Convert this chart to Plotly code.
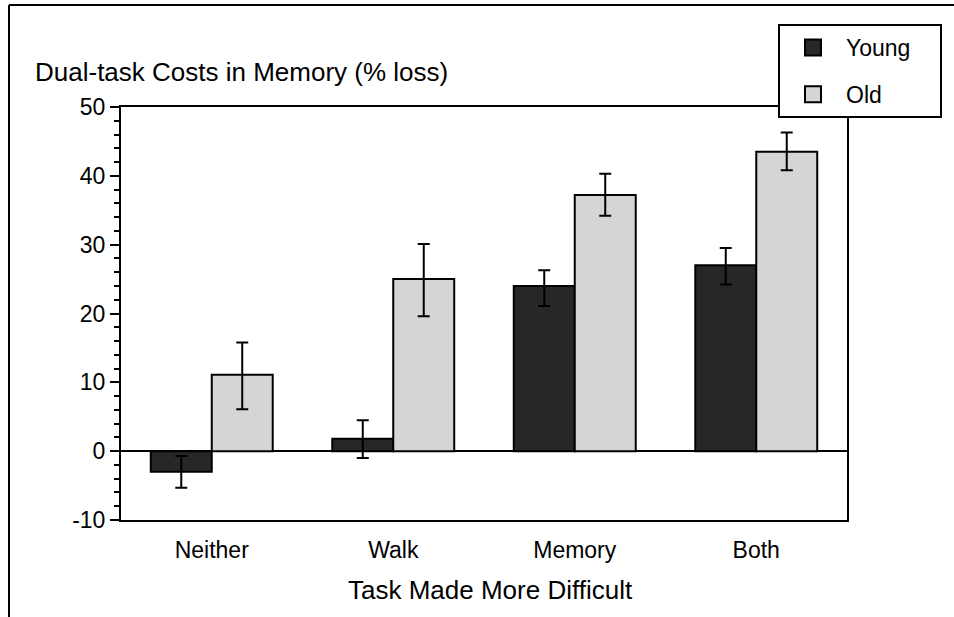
import plotly.graph_objects as go

categories = ["Neither", "Walk", "Memory", "Both"]
young_vals = [-3.0, 1.8, 24.0, 27.0]
young_hi = [-0.7, 4.5, 26.3, 29.5]
young_lo = [-5.3, -1.0, 21.1, 24.2]
old_vals = [11.1, 25.0, 37.2, 43.5]
old_hi = [15.8, 30.1, 40.3, 46.3]
old_lo = [6.1, 19.6, 34.2, 40.8]
y_ticks = [-10, 0, 10, 20, 30, 40, 50]
y_tick_text = ["-10", "0", "10", "20", "30", "40", "50"]

FONT = "Liberation Sans, Arial, Helvetica, sans-serif"
W, H = 954, 617
L, R, T, B = 121, 847, 107, 520


def px(xp):
    return (xp - L) / (R - L)


def py(yp):
    return (B - yp) / (B - T)


def err(vals, hi, lo):
    return dict(type="data", symmetric=False,
                array=[h - v for h, v in zip(hi, vals)],
                arrayminus=[v - l for l, v in zip(lo, vals)],
                color="black", thickness=2, width=6)


fig = go.Figure()
fig.add_trace(go.Bar(x=categories, y=young_vals, name="Young", showlegend=False,
                     marker=dict(color="#272727", line=dict(color="black", width=2)),
                     error_y=err(young_vals, young_hi, young_lo)))
fig.add_trace(go.Bar(x=categories, y=old_vals, name="Old", showlegend=False,
                     marker=dict(color="#d5d5d5", line=dict(color="black", width=2)),
                     error_y=err(old_vals, old_hi, old_lo)))
# legend entries
fig.add_trace(go.Scatter(x=[None], y=[None], mode="markers",
                         name="Young\u00a0\u00a0\u00a0\u2009", legendgroup="y",
                         marker=dict(symbol="square", size=16, color="#272727",
                                     line=dict(color="black", width=2))))
fig.add_trace(go.Scatter(x=[None], y=[None], mode="markers", name="Old", legendgroup="o",
                         marker=dict(symbol="square", size=16, color="#d5d5d5",
                                     line=dict(color="black", width=2))))

fig.update_layout(
    width=W, height=H,
    margin=dict(l=L, r=W - R, t=T, b=H - B, pad=0),
    paper_bgcolor="white", plot_bgcolor="white",
    font=dict(family=FONT, color="black", size=23),
    barmode="group", bargap=0.328, bargroupgap=0,
    showlegend=True,
    legend=dict(x=px(778), y=py(24), xanchor="left", yanchor="top",
                bgcolor="white", bordercolor="black", borderwidth=2,
                font=dict(size=23, family=FONT, color="black"),
                tracegroupgap=14, itemsizing="trace", itemwidth=56,
                itemclick=False),
    xaxis=dict(range=[-0.5, 3.5], showline=True, linecolor="black", linewidth=2,
               mirror=True, ticks="", showgrid=False, zeroline=False,
               tickfont=dict(size=23), ticklabelstandoff=8),
    yaxis=dict(range=[-10, 50], tickvals=y_ticks, ticktext=y_tick_text, showline=True,
               linecolor="black", linewidth=2, mirror=True, ticks="outside", ticklen=9,
               tickwidth=2, tickcolor="black", showgrid=False, zeroline=True,
               zerolinecolor="black", zerolinewidth=2, tickfont=dict(size=23),
               minor=dict(dtick=2, ticks="outside", ticklen=5, tickwidth=2,
                          tickcolor="black", showgrid=False)),
    annotations=[
        dict(text="Dual-task Costs in Memory (% loss)", xref="paper", yref="paper",
             x=px(33), y=py(72), xanchor="left", yanchor="middle", showarrow=False,
             font=dict(size=26, family=FONT, color="black")),
        dict(text="Task Made More Difficult", xref="paper", yref="paper",
             x=px(490), y=py(590), xanchor="center", yanchor="middle", showarrow=False,
             font=dict(size=26, family=FONT, color="black")),
    ],
    shapes=[
        dict(type="line", xref="paper", yref="paper", x0=px(9), x1=px(960),
             y0=py(5), y1=py(5), line=dict(color="black", width=2)),
        dict(type="line", xref="paper", yref="paper", x0=px(9), x1=px(9),
             y0=py(5), y1=py(620), line=dict(color="black", width=2)),
    ],
)

fig.write_html("out.html", config={"displayModeBar": False},
               post_script="document.body.style.margin='0';")
